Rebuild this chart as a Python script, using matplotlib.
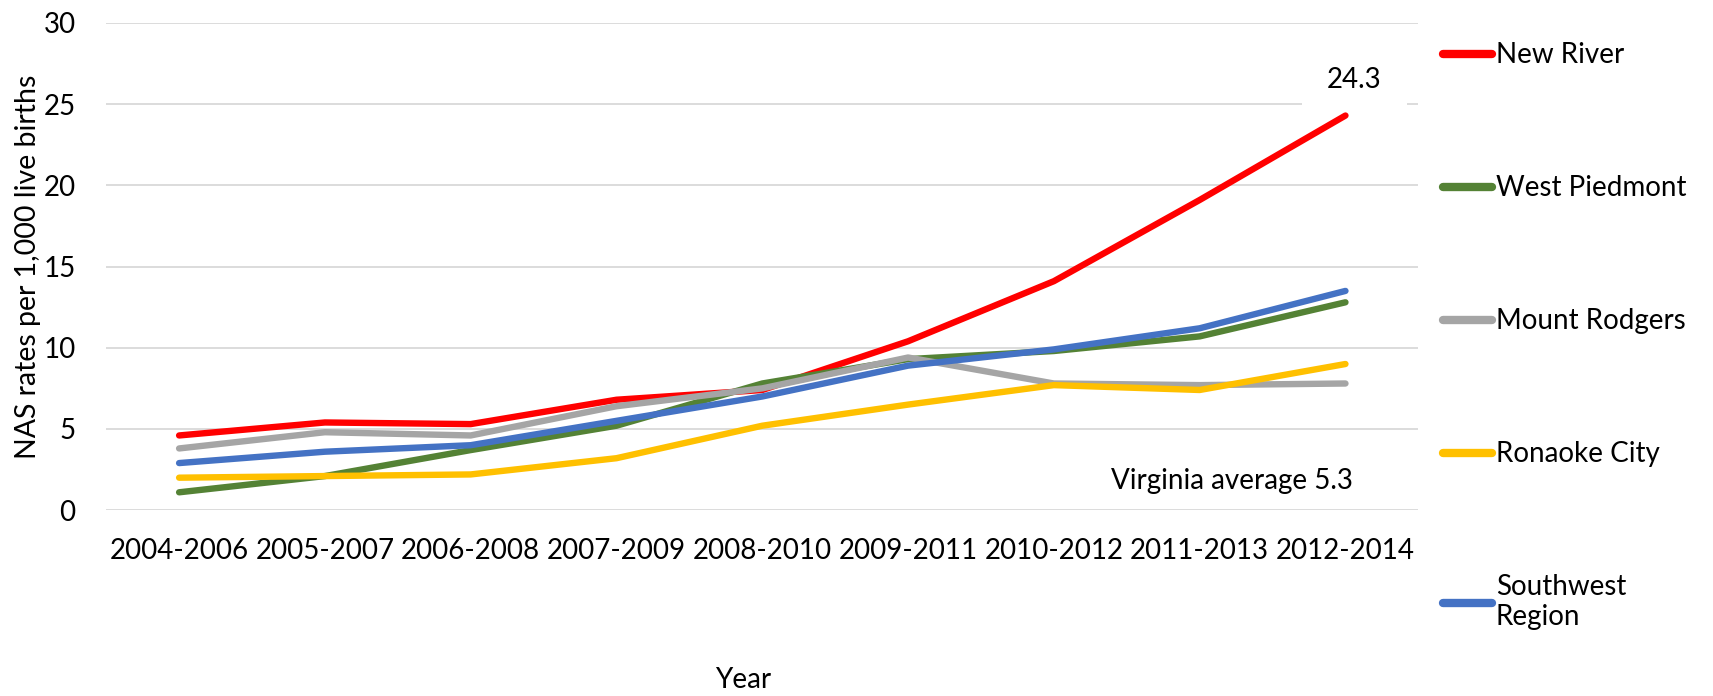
import matplotlib
matplotlib.use("Agg")
import matplotlib.pyplot as plt

plt.rcParams['font.family'] = ['Lato', 'DejaVu Sans']

# Data
periods = ["2004-2006", "2005-2007", "2006-2008", "2007-2009", "2008-2010",
           "2009-2011", "2010-2012", "2011-2013", "2012-2014"]
new_river = [4.6, 5.4, 5.3, 6.8, 7.4, 10.4, 14.1, 19.1, 24.3]
west_piedmont = [1.1, 2.1, 3.7, 5.2, 7.8, 9.3, 9.8, 10.7, 12.8]
mount_rodgers = [3.8, 4.8, 4.6, 6.4, 7.5, 9.4, 7.8, 7.7, 7.8]
roanoke_city = [2.0, 2.1, 2.2, 3.2, 5.2, 6.5, 7.7, 7.4, 9.0]
southwest = [2.9, 3.6, 4.0, 5.5, 7.0, 8.9, 9.9, 11.2, 13.5]

series = [
    ("New River", new_river, "#FF0000"),
    ("West Piedmont", west_piedmont, "#548235"),
    ("Mount Rodgers", mount_rodgers, "#A5A5A5"),
    ("Ronaoke City", roanoke_city, "#FFC000"),
    ("Southwest\nRegion", southwest, "#4472C4"),
]

fig = plt.figure(figsize=(17.13, 6.96), dpi=100)
ax = fig.add_axes([0.062, 0.267, 0.766, 0.70])

x = range(len(periods))
for name, vals, col in series:
    ax.plot(x, vals, color=col, lw=4.6, solid_capstyle='round', label=name, zorder=3)

ax.set_xlim(-0.5, len(periods) - 0.5)
ax.set_ylim(0, 30)
ax.set_yticks(range(0, 31, 5))
ax.set_xticks(list(x))
ax.set_xticklabels(periods)
ax.tick_params(axis='both', length=0, labelsize=20)
ax.tick_params(axis='x', pad=20)
ax.tick_params(axis='y', pad=22)
ax.grid(axis='y', color='#D9D9D9', lw=1.3)
ax.set_axisbelow(True)
for s in ax.spines.values():
    s.set_visible(False)

ax.set_ylabel("NAS rates per 1,000 live births", fontsize=20.5, labelpad=2)
fig.text(0.434, 0.004, "Year", fontsize=20, ha='center', va='bottom')

# label box hides the gridline behind it, but sits under the lines
ax.text(8.06, 26.5, "24.3", fontsize=20, ha='center', va='center',
        bbox=dict(facecolor='white', edgecolor='none', pad=18), zorder=2)
ax.text(8.05, 1.8, "Virginia average 5.3", fontsize=20, ha='right', va='center')

leg = fig.legend(loc='upper left', bbox_to_anchor=(0.836, 0.955), frameon=False,
                 fontsize=20, handlelength=1.75, handletextpad=0.15,
                 labelspacing=3.85, borderaxespad=0)
for h in leg.get_lines():
    h.set_linewidth(6)

fig.savefig("out.png", dpi=100)
